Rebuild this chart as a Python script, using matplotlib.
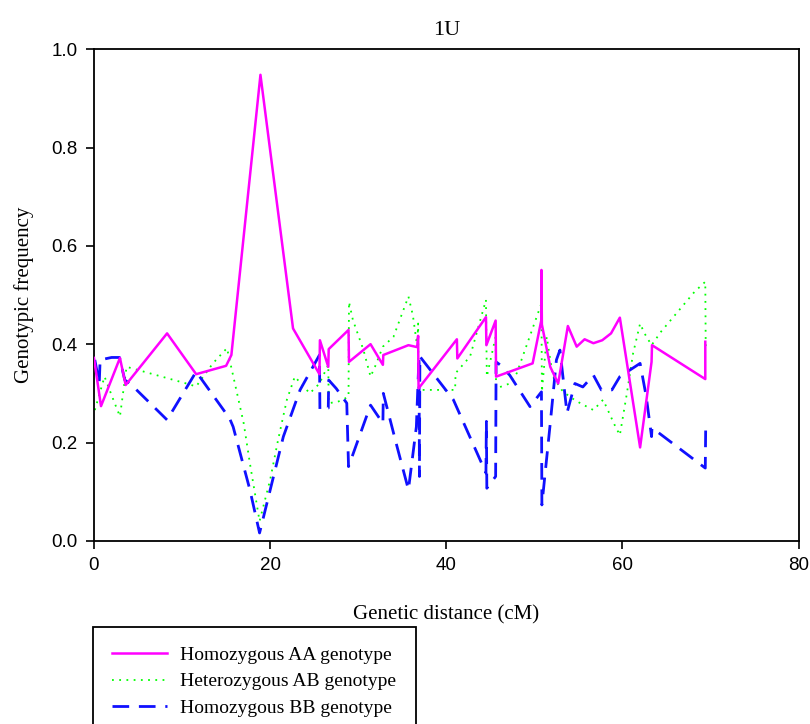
import numpy as np
import matplotlib.pyplot as plt

# Genetic distance (cM) and genotypic frequencies
x_aa = [0.0, 0.8, 2.95, 3.6, 8.3, 11.6, 15.0, 15.6, 18.9, 22.6, 25.6, 25.65,
        26.6, 26.65, 28.9, 28.95, 31.4, 32.8, 32.85, 35.7, 36.7, 36.8, 36.85,
        41.2, 41.25, 44.5, 44.55, 45.6, 45.65, 49.8, 50.8, 50.8, 50.85, 51.8,
        52.7, 53.8, 54.8, 55.7, 56.7, 57.7, 58.7, 59.7, 62.0, 63.3, 63.35,
        69.4, 69.4]
y_aa = [0.372, 0.274, 0.372, 0.317, 0.422, 0.339, 0.356, 0.378, 0.948, 0.432,
        0.339, 0.408, 0.354, 0.390, 0.429, 0.364, 0.400, 0.358, 0.378, 0.398,
        0.394, 0.417, 0.310, 0.410, 0.371, 0.455, 0.398, 0.448, 0.334, 0.361,
        0.450, 0.551, 0.440, 0.354, 0.320, 0.437, 0.395, 0.410, 0.402, 0.408,
        0.422, 0.454, 0.190, 0.364, 0.398, 0.329, 0.405]

x_ab = [0.1, 1.2, 2.2, 2.95, 3.7, 7.1, 10.5, 11.6, 13.5, 15.1, 16.0, 17.0,
        17.7, 18.8, 20.0, 20.9, 21.9, 22.8, 24.5, 25.6, 26.6, 26.65, 27.7,
        28.9, 28.95, 29.4, 30.6, 31.4, 31.9, 32.8, 34.0, 35.7, 36.2, 36.7,
        36.8, 36.85, 41.0, 41.05, 42.7, 44.5, 44.55, 44.6, 45.6, 45.65, 47.2,
        48.0, 50.8, 50.85, 51.4, 52.1, 53.1, 54.0, 55.2, 56.7, 57.8, 59.1,
        59.7, 60.5, 61.2, 62.0, 62.5, 63.3, 64.4, 68.2, 69.4, 69.45]
y_ab = [0.266, 0.334, 0.287, 0.253, 0.354, 0.337, 0.320, 0.314, 0.361, 0.392,
        0.320, 0.239, 0.158, 0.040, 0.124, 0.205, 0.287, 0.334, 0.300, 0.320,
        0.358, 0.280, 0.283, 0.293, 0.486, 0.449, 0.388, 0.334, 0.354, 0.395,
        0.415, 0.497, 0.459, 0.395, 0.442, 0.307, 0.307, 0.341, 0.375, 0.490,
        0.408, 0.334, 0.415, 0.310, 0.320, 0.341, 0.483, 0.303, 0.415, 0.334,
        0.307, 0.293, 0.280, 0.266, 0.287, 0.236, 0.215, 0.300, 0.381, 0.442,
        0.422, 0.398, 0.426, 0.507, 0.527, 0.392]

x_bb = [0.1, 0.6, 0.7, 2.0, 2.9, 3.5, 4.1, 8.3, 11.6, 15.4, 15.8, 17.7, 18.8,
        21.5, 23.4, 25.6, 25.65, 26.6, 26.65, 27.5, 28.7, 28.9, 31.4, 32.8,
        32.85, 34.3, 35.7, 36.6, 36.9, 36.95, 37.0, 40.8, 44.5, 44.55, 44.6,
        45.6, 45.65, 46.1, 47.2, 49.5, 50.8, 50.85, 51.8, 52.5, 52.9, 53.7,
        54.6, 55.5, 56.7, 57.6, 58.8, 59.7, 62.0, 62.7, 63.3, 63.35, 69.4,
        69.45]
y_bb = [0.368, 0.320, 0.368, 0.373, 0.373, 0.327, 0.320, 0.246, 0.344, 0.249,
        0.232, 0.104, 0.016, 0.212, 0.307, 0.378, 0.266, 0.270, 0.327, 0.310,
        0.280, 0.151, 0.276, 0.239, 0.300, 0.199, 0.104, 0.232, 0.375, 0.131,
        0.375, 0.287, 0.138, 0.243, 0.107, 0.131, 0.364, 0.358, 0.337, 0.273,
        0.303, 0.073, 0.239, 0.368, 0.388, 0.260, 0.320, 0.313, 0.337, 0.307,
        0.307, 0.334, 0.361, 0.293, 0.212, 0.230, 0.148, 0.239]

labels = ['Homozygous AA genotype', 'Heterozygous AB genotype',
          'Homozygous BB genotype']

serif = ['Liberation Serif', 'DejaVu Serif']
sans = ['Liberation Sans', 'DejaVu Sans']

fig = plt.figure(figsize=(8.1, 7.24), dpi=100)
ax = fig.add_axes([0.116, 0.253, 0.870, 0.679])

l1, = ax.plot(x_aa, y_aa, color='#ff00ff', lw=1.8, label=labels[0])
l2, = ax.plot(x_ab, y_ab, color='#00ff00', lw=1.3, linestyle=(0, (1, 3)),
              label=labels[1])
l3, = ax.plot(x_bb, y_bb, color='#1010ff', lw=2.0, linestyle=(0, (6, 3.5)),
              label=labels[2])
# draw order: AA on top of AB and BB
l1.set_zorder(3)

ax.set_xlim(0, 80)
ax.set_ylim(0, 1.0)
ax.set_xticks([0, 20, 40, 60, 80])
ax.set_yticks([0.0, 0.2, 0.4, 0.6, 0.8, 1.0])
ax.set_yticklabels(['0.0', '0.2', '0.4', '0.6', '0.8', '1.0'])
ax.tick_params(direction='out', length=6, width=1.2, labelsize=13.5,
               top=False, right=False, pad=6)
for lab in ax.get_xticklabels() + ax.get_yticklabels():
    lab.set_family(sans)
for sp in ax.spines.values():
    sp.set_linewidth(1.3)

ax.set_title('1U', fontsize=16, family=serif, pad=10)
ax.set_xlabel('Genetic distance (cM)', fontsize=15, family=serif, labelpad=22)
ax.set_ylabel('Genotypic frequency', fontsize=15, family=serif, labelpad=12)

leg = fig.legend(handles=[l1, l2, l3], loc='upper left',
                 bbox_to_anchor=(93 / 810, 1 - 627 / 724), frameon=True,
                 fancybox=False, edgecolor='black', framealpha=1,
                 prop={'family': serif, 'size': 14}, borderpad=1.0,
                 handlelength=2.8, handletextpad=0.7, labelspacing=0.45,
                 borderaxespad=0)
leg.get_frame().set_linewidth(1.3)

fig.savefig('out.png', dpi=100)
